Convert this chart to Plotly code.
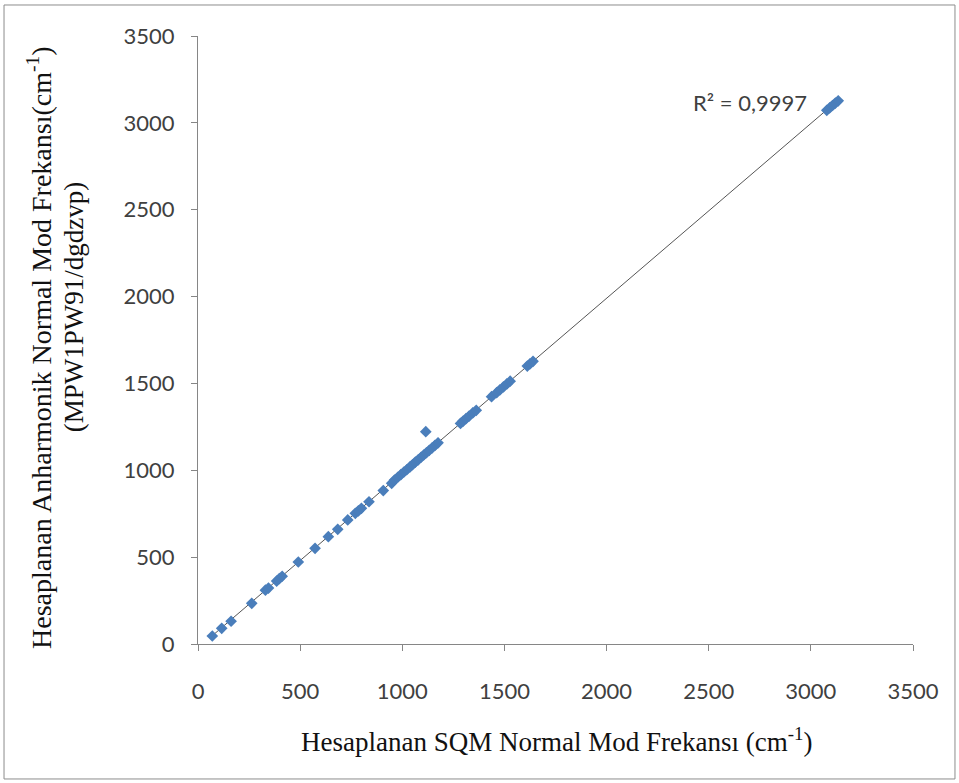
import numpy as np
import plotly.graph_objects as go

# SQM scaled frequencies (x) vs anharmonic MPW1PW91/dgdzvp frequencies (y), cm-1
sqm_freq = [70, 116, 162, 263, 330, 345, 385, 398, 412, 491, 573, 638, 684, 733,
            770, 785, 800, 837, 907, 948, 962, 978, 993, 1008, 1022, 1038, 1050,
            1064, 1078, 1092, 1105, 1118, 1132, 1146, 1160, 1175, 1115, 1285, 1298,
            1312, 1327, 1345, 1362, 1437, 1462, 1478, 1495, 1512, 1528, 1612, 1625,
            1640, 3078, 3092, 3106, 3120, 3134]
anh_freq = [46, 90, 131, 234, 310, 322, 362, 376, 390, 472, 551, 618, 660, 714,
            752, 766, 781, 819, 883, 925, 944, 960, 975, 990, 1003, 1020, 1032,
            1047, 1060, 1075, 1088, 1101, 1115, 1129, 1143, 1158, 1222, 1270, 1283,
            1297, 1312, 1330, 1345, 1424, 1447, 1463, 1480, 1497, 1513, 1600, 1612,
            1627, 3072, 3086, 3100, 3114, 3127]
tick_vals = [0, 500, 1000, 1500, 2000, 2500, 3000, 3500]
r2_label = "R² = 0,9997"

x = np.array(sqm_freq, dtype=float)
y = np.array(anh_freq, dtype=float)
m, c = np.polyfit(x, y, 1)
xl = np.array([x.min(), x.max()])
yl = m * xl + c

fig = go.Figure()
fig.add_trace(go.Scatter(x=xl, y=yl, mode="lines",
                         line=dict(color="#555555", width=1), hoverinfo="skip"))
fig.add_trace(go.Scatter(x=x, y=y, mode="markers",
                         marker=dict(symbol="diamond", size=9, color="#4A7EBB",
                                     line=dict(width=0))))

axis_common = dict(range=[0, 3500], tickvals=tick_vals, showgrid=False, zeroline=False,
                   showline=True, linecolor="#868686", linewidth=1, ticks="outside",
                   ticklen=6, tickcolor="#868686",
                   tickfont=dict(family="Lato", size=22, color="#404040"))
fig.update_xaxes(**axis_common, ticklabelstandoff=22)
fig.update_yaxes(**axis_common, ticklabelstandoff=12)

fig.add_annotation(xref="paper", yref="paper", x=0.5007, y=-0.158,
                   text="Hesaplanan SQM Normal Mod Frekansı (cm<sup>-1</sup>)",
                   showarrow=False, font=dict(family="Liberation Serif", size=27, color="#111"),
                   xanchor="center", yanchor="middle")
fig.add_annotation(xref="paper", yref="paper", x=-0.221, y=0.4885, textangle=-90,
                   text="Hesaplanan Anharmonik Normal Mod Frekansı(cm<sup>-1</sup>)",
                   showarrow=False, font=dict(family="Liberation Serif", size=28, color="#111"),
                   xanchor="center", yanchor="middle")
fig.add_annotation(xref="paper", yref="paper", x=-0.1734, y=0.554, textangle=-90,
                   text="(MPW1PW91/dgdzvp)",
                   showarrow=False, font=dict(family="Liberation Serif", size=27, color="#111"),
                   xanchor="center", yanchor="middle")
fig.add_annotation(x=2990, y=3115, text=r2_label, showarrow=False,
                   xanchor="right", yanchor="middle",
                   font=dict(family="Lato", size=22, color="#404040"))

fig.add_shape(type="rect", xref="paper", yref="paper",
              x0=-0.2713, x1=1.0587, y0=-0.222, y1=1.051,
              line=dict(color="#8c8c8c", width=1), layer="below")

fig.update_layout(width=959, height=783, showlegend=False,
                  paper_bgcolor="white", plot_bgcolor="white",
                  margin=dict(l=198, r=46, t=36, b=139))
fig.write_html("out.html")
